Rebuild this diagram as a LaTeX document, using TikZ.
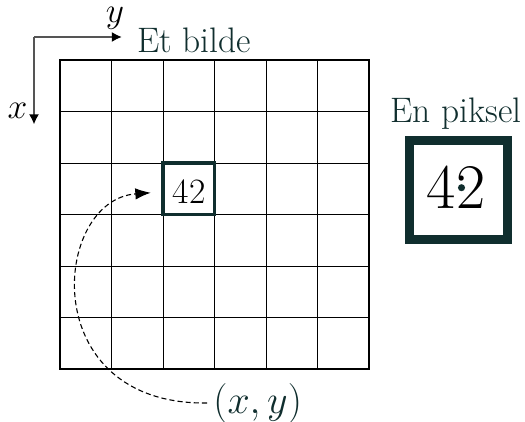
\documentclass[tikz,border=0pt]{standalone}
\usetikzlibrary{arrows.meta}
\definecolor{deepteal}{RGB}{16,46,46}
\definecolor{axisgray}{RGB}{85,85,85}
\begin{document}
\begin{tikzpicture}[x=0.5504pt,y=-0.5504pt,
  gridline/.style={line width=0.5pt},
  gridframe/.style={line width=1.1pt},
  axisline/.style={draw=axisgray,line width=1.1pt,-{Latex[length=5.6pt,width=5.6pt,color=black]}},
  cellbox/.style={draw=deepteal,line width=1.9pt,minimum size=28.35pt,inner sep=0pt},
  pixbox/.style={draw=deepteal,fill=white,line width=4.7pt,minimum size=54.2pt,inner sep=0pt},
  titletext/.style={anchor=base west,inner sep=0pt,font=\fontsize{19.5}{23}\selectfont,text=deepteal},
  axislabel/.style={inner sep=0pt},
  dashedarrow/.style={line width=0.6pt,dash pattern=on 2.8pt off 1.7pt,-{Latex[length=8.5pt,width=6.3pt]}}]
\useasboundingbox (0,0) rectangle (525,422);
% grid
\foreach \i in {1,...,5} {
  \draw[gridline] ({60+51.5*\i},60) -- ({60+51.5*\i},369);
  \draw[gridline] (60,{60+51.5*\i}) -- (369,{60+51.5*\i});
}
\draw[gridframe] (60,60) rectangle (369,369);
% highlighted cell
\node[cellbox] (cell) at (188.75,188.75) {};
\node[font=\fontsize{19.6}{23}\selectfont,inner sep=0pt] (cellnum) at (189,191.5) {42};
% axes
\coordinate (origin) at (34,37);
\coordinate (yend) at (122,37);
\coordinate (xend) at (34,124.5);
\draw[axisline] (origin) -- (yend);
\draw[axisline] (origin) -- (xend);
\node[axislabel] (ylab) at (115,18) {\scalebox{1.13}{\LARGE $y$}};
\node[axislabel] (xlab) at (17.5,111) {\scalebox{1.13}{\LARGE $x$}};
% titles
\node[titletext] (title) at (137,53) {Et bilde};
\node[titletext] (ptitle) at (390,122) {En piksel};
% big pixel
\node[pixbox] (pixel) at (458.5,190) {};
\node[font=\fontsize{35}{40}\selectfont,inner sep=0pt] (pixnum) at (456,187.5) {42};
\node[circle,fill=deepteal,inner sep=0pt,minimum size=3.9pt] (pixdot) at (461.5,187.7) {};
% coordinate label and arrow
\node[anchor=base west,inner sep=0pt,text=deepteal] (coord) at (213,413) {\scalebox{1.06}{\huge $(x,y)$}};
\coordinate (target) at ([shift={(-10.5,4)}]cell.west);
\draw[dashedarrow] ([xshift=-3.3pt]coord.west) .. controls (35,405) and (52,200) .. (target);
\end{tikzpicture}
\end{document}
